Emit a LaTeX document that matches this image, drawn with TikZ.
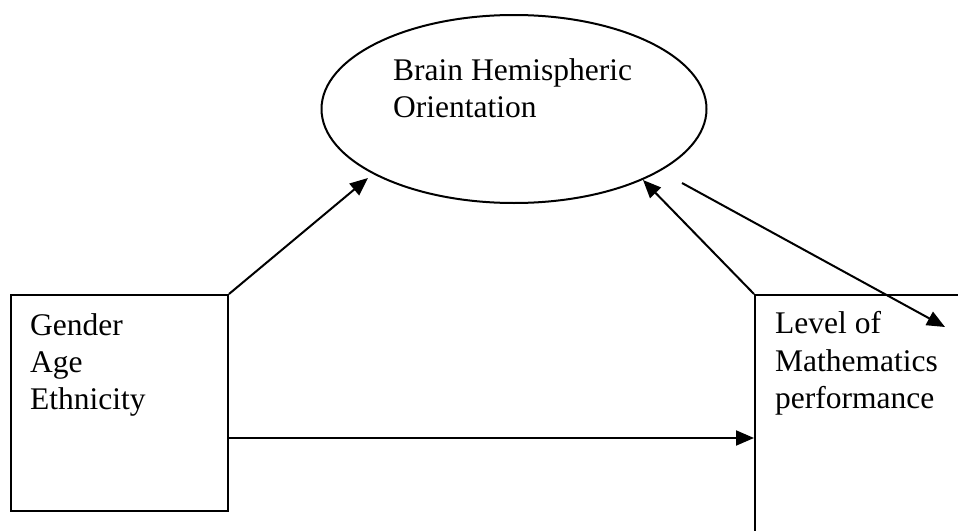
\documentclass[tikz,border=0pt]{standalone}
\usepackage{fontspec}
\setmainfont{Liberation Serif}
\usetikzlibrary{arrows.meta,shapes.geometric}
\begin{document}
\begin{tikzpicture}[x=1pt,y=-1pt,
  boxstyle/.style={draw,line width=2pt,rectangle,inner sep=0pt},
  ellstyle/.style={draw,line width=2pt,ellipse,inner sep=0pt,minimum width=385pt,minimum height=188pt},
  lbl/.style={anchor=base west,inner sep=0pt,font=\fontsize{31.5}{37}\selectfont},
  arr/.style={line width=2pt,-{Triangle[length=18pt,width=15pt]}}]
\useasboundingbox (0,0) rectangle (958,530);
\clip (0,0) rectangle (958,530);
\node[ellstyle] (ell) at (514,109) {};
\node[boxstyle,anchor=north west,minimum width=217pt,minimum height=216pt] (left) at (10,294) {};
\node[boxstyle,anchor=north west,minimum width=300pt,minimum height=300pt] (right) at (754,294) {};
\node[lbl] (b1) at (393,80) {Brain Hemispheric};
\node[lbl] (b2) at (393,117) {Orientation};
\node[lbl] (g1) at (30,335) {Gender};
\node[lbl] (g2) at (30,372) {Age};
\node[lbl] (g3) at (30,409) {Ethnicity};
\node[lbl] (m1) at (775,333) {Level of};
\node[lbl] (m2) at (775,371) {Mathematics};
\node[lbl] (m3) at (775,408) {performance};
\coordinate (e1) at (368,178);
\coordinate (e2) at (643,180);
\coordinate (s3) at (682,183);
\coordinate (t3) at (945,327);
\coordinate (h1) at (227,438);
\draw[arr] (left.north east) -- (e1);
\draw[arr] (right.north west) -- (e2);
\draw[arr] (s3) -- (t3);
\draw[arr] (left.east |- h1) -- (right.west |- h1);
\end{tikzpicture}
\end{document}
